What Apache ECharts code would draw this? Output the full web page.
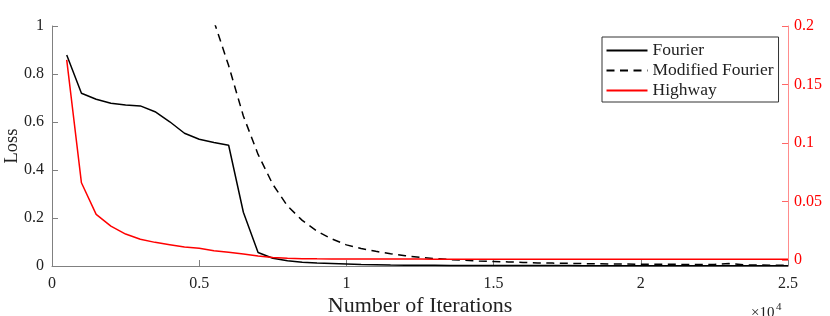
<!DOCTYPE html>
<html>
<head>
<meta charset="utf-8">
<script src="https://cdn.jsdelivr.net/npm/echarts@6/dist/echarts.min.js"></script>
<style>html,body{margin:0;padding:0;background:#fff;}#c{width:830px;height:316px;}</style>
</head>
<body>
<div id="c"></div>
<script>
// Iterations (x values)
const iterFourier = [];
for (let i = 500; i <= 25000; i += 500) iterFourier.push(i);
const iterModified = [];
for (let i = 5500; i <= 25000; i += 500) iterModified.push(i);
const iterHighway = iterFourier.slice();

// Fourier loss (left axis)
const fourier = [0.879, 0.72, 0.695, 0.678, 0.671, 0.667, 0.643, 0.601, 0.553, 0.528,
  0.515, 0.503, 0.224, 0.056, 0.032, 0.022, 0.016, 0.012, 0.010, 0.008,
  0.006, 0.005, 0.004, 0.0035, 0.003, 0.003, 0.0025, 0.0025, 0.002, 0.002,
  0.002, 0.002, 0.0018, 0.0018, 0.0016, 0.0015, 0.0015, 0.0014, 0.0013, 0.0013,
  0.0012, 0.0012, 0.0011, 0.0011, 0.001, 0.001, 0.001, 0.001, 0.001, 0.001];

// Modified Fourier loss (left axis)
const modifiedFourier = [1.02, 0.835, 0.625, 0.465, 0.34, 0.25, 0.19, 0.145, 0.113, 0.088,
  0.073, 0.061, 0.051, 0.043, 0.036, 0.031, 0.027, 0.024, 0.021, 0.019,
  0.017, 0.015, 0.013, 0.012, 0.011, 0.010, 0.009, 0.0085, 0.008, 0.0075,
  0.007, 0.007, 0.0065, 0.006, 0.0065, 0.010, 0.005, 0.004, 0.0035, 0.0035];

// Highway loss (right axis)
const highway = [0.171, 0.066, 0.039, 0.029, 0.0222, 0.0177, 0.0151, 0.0131, 0.0111, 0.010,
  0.008, 0.0066, 0.0051, 0.0034, 0.0022, 0.0016, 0.0012, 0.001, 0.0009, 0.0009,
  0.0008, 0.0008, 0.0008, 0.0008, 0.0008, 0.0007, 0.0007, 0.0007, 0.0007, 0.0007,
  0.0007, 0.0007, 0.0007, 0.0007, 0.0007, 0.0007, 0.0007, 0.0007, 0.0007, 0.0007,
  0.0007, 0.0007, 0.0007, 0.0007, 0.0007, 0.0007, 0.0007, 0.0007, 0.0007, 0.0007];

// Tick labels
const rightTicks = [0, 0.05, 0.1, 0.15, 0.2];

const FONT = '"Liberation Serif", "DejaVu Serif", serif';
const zip = (xs, ys) => xs.map((x, i) => [x, ys[i]]);

const chart = echarts.init(document.getElementById('c'), null, {renderer: 'canvas'});
chart.setOption({
  animation: false,
  backgroundColor: '#fff',
  grid: {left: 52, right: 42, top: 26, bottom: 50, containLabel: false, outerBoundsMode: 'none'},
  xAxis: {
    type: 'value', min: 0, max: 25000, interval: 5000,
    name: 'Number of Iterations', nameLocation: 'middle', nameGap: 29, nameMoveOverlap: false,
    nameTextStyle: {fontFamily: FONT, fontSize: 22, color: '#222'},
    axisLine: {onZero: false, lineStyle: {color: '#808080', width: 1}},
    axisTick: {inside: true, length: 6, lineStyle: {color: '#808080'}},
    axisLabel: {fontFamily: FONT, fontSize: 16, color: '#222', margin: 10,
      formatter: v => String(v / 10000)},
    splitLine: {show: false}
  },
  yAxis: [{
    type: 'value', min: 0, max: 1, interval: 0.2, position: 'left',
    name: 'Loss', nameLocation: 'middle', nameGap: 30, nameRotate: 90, nameMoveOverlap: false,
    nameTextStyle: {fontFamily: FONT, fontSize: 18.5, color: '#222'},
    axisLine: {show: true, lineStyle: {color: '#808080', width: 1}},
    axisTick: {show: true, inside: true, length: 6, lineStyle: {color: '#808080'}},
    axisLabel: {fontFamily: FONT, fontSize: 16, color: '#222', margin: 8},
    splitLine: {show: false}
  }, {
    type: 'value', min: -0.0051, max: 0.2, position: 'right',
    axisLine: {show: true, lineStyle: {color: 'rgba(255,0,0,0.45)', width: 1}},
    axisTick: {show: true, inside: true, length: 6, customValues: rightTicks,
      lineStyle: {color: 'rgba(255,0,0,0.6)'}},
    axisLabel: {fontFamily: FONT, fontSize: 16, color: '#ff0000', margin: 6,
      customValues: rightTicks, formatter: v => String(v)},
    splitLine: {show: false}
  }],
  legend: {
    orient: 'vertical', left: 602, top: 37,
    backgroundColor: '#fff', borderColor: '#333', borderWidth: 1,
    padding: [3.5, 5, 1.5, 3.5], itemGap: 0, itemWidth: 41, itemHeight: 20,
    itemStyle: {opacity: 0},
    textStyle: {fontFamily: FONT, fontSize: 17.5, lineHeight: 20, color: '#222'},
    data: ['Fourier', 'Modified Fourier', 'Highway']
  },
  series: [{
    name: 'Fourier', type: 'line', yAxisIndex: 0, showSymbol: false, symbol: 'none',
    data: zip(iterFourier, fourier),
    lineStyle: {color: '#000', width: 1.5}, itemStyle: {color: '#000'}, clip: true
  }, {
    name: 'Modified Fourier', type: 'line', yAxisIndex: 0, showSymbol: false, symbol: 'none',
    data: zip(iterModified, modifiedFourier),
    lineStyle: {color: '#000', width: 1.5, type: [8, 5.5]}, itemStyle: {color: '#000'}, clip: true
  }, {
    name: 'Highway', type: 'line', yAxisIndex: 1, showSymbol: false, symbol: 'none',
    data: zip(iterHighway, highway),
    lineStyle: {color: '#ff0000', width: 1.5}, itemStyle: {color: '#ff0000'}, clip: true
  }],
  graphic: [{
    type: 'text', left: 751, top: 306,
    style: {text: '×10', fontFamily: FONT, fontSize: 15, fill: '#222'}
  }, {
    type: 'text', left: 776, top: 302,
    style: {text: '4', fontFamily: FONT, fontSize: 11, fill: '#222'}
  }]
});
</script>
</body>
</html>
